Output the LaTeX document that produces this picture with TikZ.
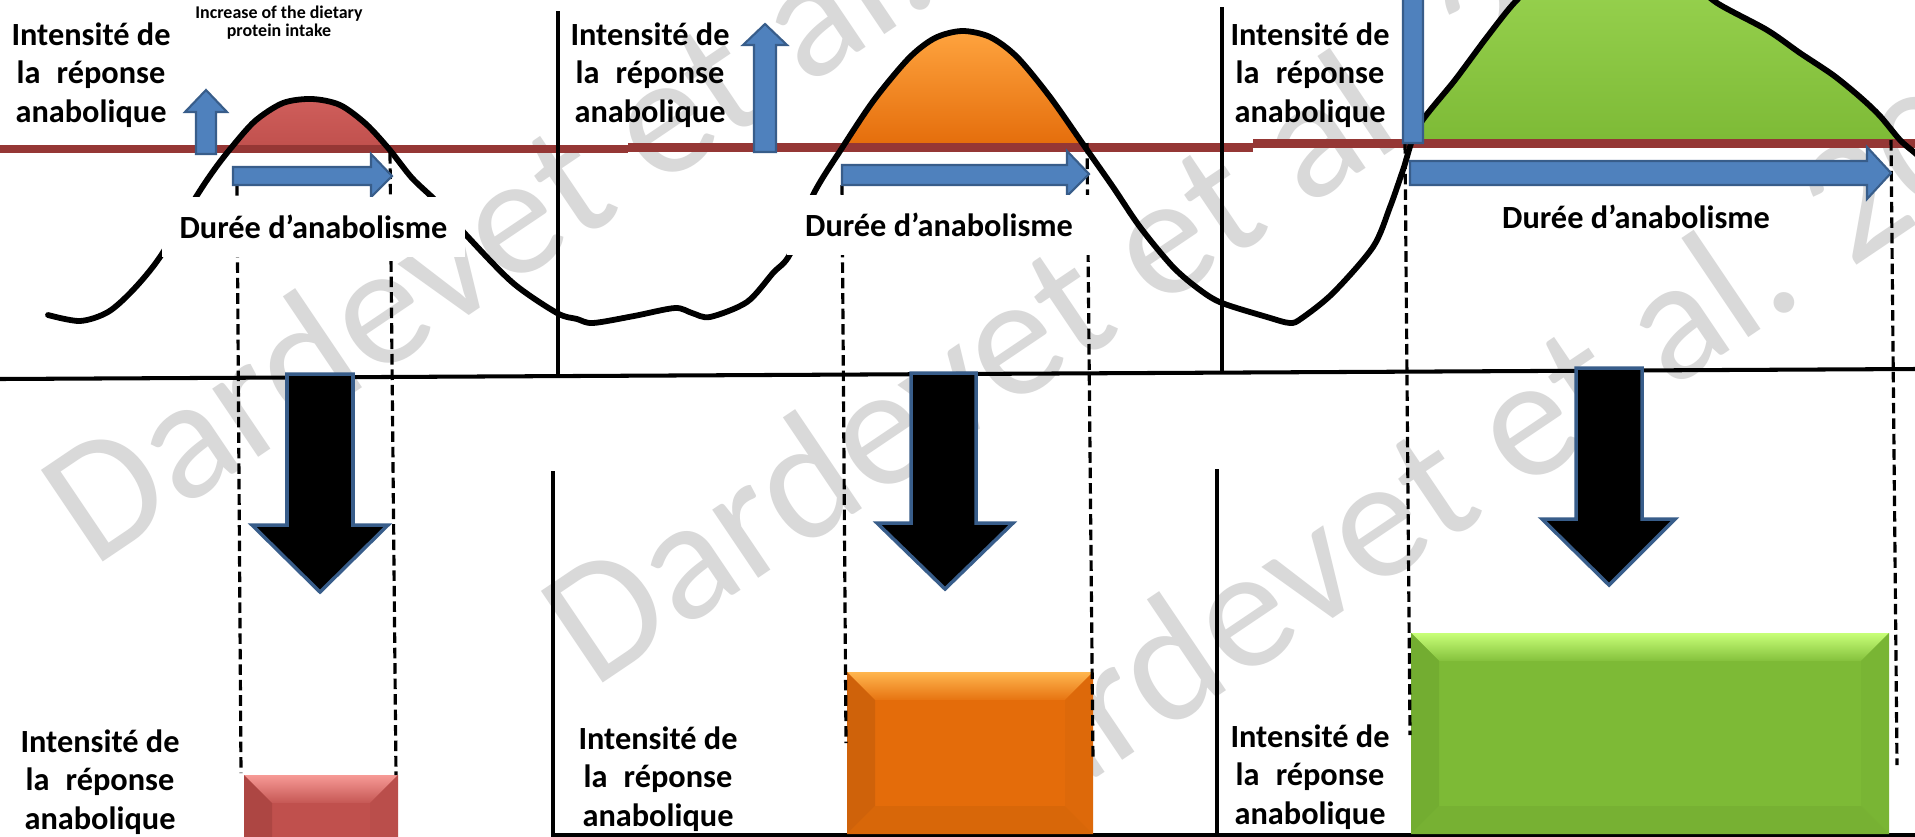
\documentclass[tikz,border=0pt]{standalone}
\usepackage{fontspec}
\setmainfont{Carlito}
\definecolor{blueF}{HTML}{4F81BD}
\definecolor{blueD}{HTML}{385D8A}
\definecolor{redline}{HTML}{953735}
\definecolor{redB}{HTML}{C0504D}
\definecolor{redT}{HTML}{D05F5C}
\definecolor{redL}{HTML}{F79A96}
\definecolor{redDk}{HTML}{AD4643}
\definecolor{orB}{HTML}{E46C0A}
\definecolor{orT}{HTML}{FFA540}
\definecolor{orL}{HTML}{FFB64F}
\definecolor{orDk}{HTML}{CF620A}
\definecolor{grB}{HTML}{7DBA36}
\definecolor{grT}{HTML}{9CD653}
\definecolor{grL}{HTML}{C8FF78}
\definecolor{grDk}{HTML}{73AD31}
\definecolor{wmgray}{HTML}{D9D9D9}
\newcommand\bevelbox[8]{%
  \fill[#5] (#1,#2) rectangle (#3,#4);
  \shade[top color=#6, bottom color=#5!90!#6] (#1,#2) -- (#3,#2) -- (#3-#8,#2+#8) -- (#1+#8,#2+#8) -- cycle;
  \fill[#7] (#1,#2) -- (#1+#8,#2+#8) -- (#1+#8,#4-#8) -- (#1,#4) -- cycle;
  \fill[#5!97!black] (#3,#2) -- (#3-#8,#2+#8) -- (#3-#8,#4-#8) -- (#3,#4) -- cycle;
  \fill[#5!95!black] (#1,#4) -- (#1+#8,#4-#8) -- (#3-#8,#4-#8) -- (#3,#4) -- cycle;
}
\tikzset{
  lbl/.style={font=\bfseries\fontsize{18.4}{21}\selectfont, anchor=base, inner sep=0pt},
  small/.style={font=\bfseries\fontsize{10.2}{12}\selectfont, anchor=base, inner sep=0pt},
  wm/.style={text=wmgray, font=\fontsize{98}{98}\selectfont, anchor=base west, rotate=34, inner sep=0pt},
  durbox/.style={font=\bfseries\fontsize{18.4}{21}\selectfont, fill=white, minimum width=6.08cm, minimum height=1.2cm, inner sep=0pt},
  durtxt/.style={font=\bfseries\fontsize{18.4}{21}\selectfont, anchor=base, inner sep=0pt},
  axis/.style={line width=2.3pt, black},
  thresh/.style={line width=5.1pt, redline},
  curve/.style={line width=3.3pt, black, line cap=round},
  guide/.style={line width=1.8pt, black, dash pattern=on 6pt off 2.8pt},
  bluearrow/.style={fill=blueF, draw=blueD, line width=1.2pt},
  downarrow/.style={fill=black, draw=blueD, line width=2pt, line join=miter},
}
\newcommand\intlabel[3]{%
  \node[lbl] (#1a) at (#2,#3) {Intensité de};
  \node[lbl] (#1b) at (#2,#3+38.5) {la\hspace{0.5em}réponse};
  \node[lbl] (#1c) at (#2,#3+77) {anabolique};
}
\begin{document}
\begin{tikzpicture}[x=0.02cm, y=-0.02cm]
\useasboundingbox (0,0) rectangle (1915,836);
\fill[white] (0,0) rectangle (1915,836);
\clip (0,0) rectangle (1915,836);

% watermark
\node[wm] (wm1) at (93,569) {Dardevet et al. 20};
\node[wm] (wm2) at (593,690) {Dardevet et al. 20};
\node[wm] (wm3) at (957,872) {Dardevet et al. 20};

% fills under the curve above the threshold
\begin{scope}
\clip plot[smooth, tension=0.5] coordinates {(48,315) (80,321) (108,312) (133,290) (160,257) (196,197) (214,170) (231,148) (255,121) (283,103) (312,99) (340,105) (366,124) (389,149) (412,178) (437,202) (468,237) (513,283) (557,313) (577,319) (593,323) (634,316) (675,308) (692,313) (710,317) (747,302) (773,273) (790,254) (813,195) (842,148) (874,100) (909,58) (935,38) (962,31) (990,37) (1017,57) (1050,97) (1085,147) (1113,187) (1140,227) (1173,267) (1200,290) (1222,303) (1267,317) (1290,323) (1302,318) (1333,293) (1373,247) (1390,207) (1403,170) (1418,127) (1455,80) (1487,37) (1515,2) (1545,-25) (1580,-42) (1620,-48) (1660,-38) (1690,-20) (1717,3) (1767,30) (1800,53) (1833,75) (1860,97) (1880,116) (1900,140) (1915,153) (1935,170)} -- (1935,900) -- (40,900) -- cycle;
\shade[top color=redT, bottom color=redB] (215,95) rectangle (400,149);
\shade[top color=orT, bottom color=orB] (830,28) rectangle (1100,147.5);
\shade[top color=grT, bottom color=grB] (1400,-50) rectangle (1915,143.5);
\end{scope}

% threshold line
\draw[thresh] (0,149) -- (628,149);
\draw[thresh] (628,147.5) -- (1253,147.5);
\draw[thresh] (1253,143.5) -- (1915,143.5);

% response curve
\draw[curve] plot[smooth, tension=0.5] coordinates {(48,315) (80,321) (108,312) (133,290) (160,257) (196,197) (214,170) (231,148) (255,121) (283,103) (312,99) (340,105) (366,124) (389,149) (412,178) (437,202) (468,237) (513,283) (557,313) (577,319) (593,323) (634,316) (675,308) (692,313) (710,317) (747,302) (773,273) (790,254) (813,195) (842,148) (874,100) (909,58) (935,38) (962,31) (990,37) (1017,57) (1050,97) (1085,147) (1113,187) (1140,227) (1173,267) (1200,290) (1222,303) (1267,317) (1290,323) (1302,318) (1333,293) (1373,247) (1390,207) (1403,170) (1418,127) (1455,80) (1487,37) (1515,2) (1545,-25) (1580,-42) (1620,-48) (1660,-38) (1690,-20) (1717,3) (1767,30) (1800,53) (1833,75) (1860,97) (1880,116) (1900,140) (1915,153) (1935,170)};

% axes
\draw[axis] (0,379) -- (1915,369);
\draw[axis] (558,11) -- (558,377);
\draw[axis] (1222,7) -- (1222,373);
\draw[axis] (553,471) -- (553,840);
\draw[axis] (1217,469) -- (1217,840);
\draw[axis] (553,835) -- (1915,835);

% bottom bars
\bevelbox{244}{775}{398}{870}{redB}{redL}{redDk}{28}
\bevelbox{847}{672}{1093}{834}{orB}{orL}{orDk}{28}
\bevelbox{1411}{633}{1889}{834}{grB}{grL}{grDk}{28}

% dashed guides
\draw[guide] (237,185) -- (241,773);
\draw[guide] (390,153) -- (396,775);
\draw[guide] (842,185) -- (846,743);
\draw[guide] (1087,143) -- (1093,760);
\draw[guide] (1405,143) -- (1410,735);
\draw[guide] (1891,140) -- (1897,765);

% blue up arrows
\draw[bluearrow] (196,154) -- (196,112) -- (185,112) -- (206,90) -- (227,112) -- (216,112) -- (216,154) -- cycle;
\draw[bluearrow] (754,152) -- (754,45) -- (743,45) -- (765,24) -- (787,45) -- (776,45) -- (776,152) -- cycle;
\draw[bluearrow] (1403,143) -- (1403,-60) -- (1391,-60) -- (1413,-90) -- (1435,-60) -- (1423,-60) -- (1423,143) -- cycle;

% blue duration arrows
\draw[bluearrow] (233,167) -- (371,167) -- (371,154) -- (392,176) -- (371,197) -- (371,185) -- (233,185) -- cycle;
\draw[bluearrow] (842,165) -- (1067,165) -- (1067,151) -- (1089,174) -- (1067,196) -- (1067,185) -- (842,185) -- cycle;
\draw[bluearrow] (1410,161) -- (1867,161) -- (1867,147) -- (1891,173) -- (1867,199) -- (1867,185) -- (1410,185) -- cycle;

% duration labels
\node[durbox] (dur1) at (313.5,227) {Durée d’anabolisme};
\node[durbox] (dur2) at (939,225) {Durée d’anabolisme};
\node[durtxt] (dur3) at (1636,228) {Durée d’anabolisme};

% black down arrows
\draw[downarrow] (287,374) -- (353,374) -- (353,525) -- (388,525) -- (320,592) -- (252,525) -- (287,525) -- cycle;
\draw[downarrow] (911,373) -- (976,373) -- (976,523) -- (1013,523) -- (945,589) -- (877,523) -- (911,523) -- cycle;
\draw[downarrow] (1576,368) -- (1642,368) -- (1642,519) -- (1675,519) -- (1609,585) -- (1542,519) -- (1576,519) -- cycle;

% labels
\intlabel{top1}{91}{45}
\intlabel{top2}{650}{45}
\intlabel{top3}{1310}{45}
\intlabel{bot1}{100}{752}
\intlabel{bot2}{658}{749}
\intlabel{bot3}{1310}{747}
\node[small] (inc1) at (279,18) {Increase of the dietary};
\node[small] (inc2) at (279,36) {protein intake};
\end{tikzpicture}
\end{document}
